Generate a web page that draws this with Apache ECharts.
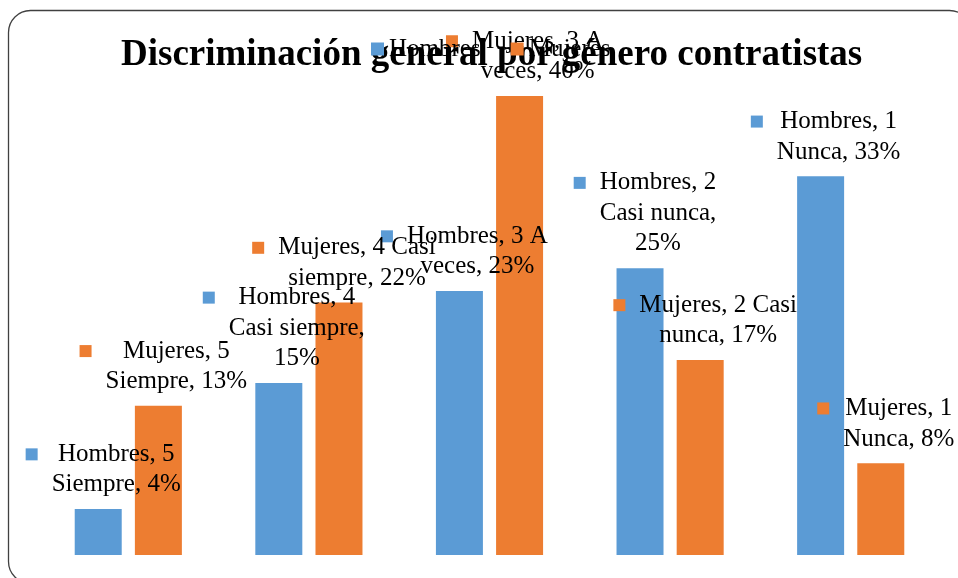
<!DOCTYPE html>
<html>
<head>
<meta charset="utf-8">
<script src="https://cdn.jsdelivr.net/npm/echarts@6/dist/echarts.min.js"></script>
<style>
html,body{margin:0;padding:0;background:#fff;}
#chart{width:958px;height:578px;}
</style>
</head>
<body>
<div id="chart"></div>
<script>
const titleText = 'Discriminación general por género contratistas';
const categories = ['5 Siempre', '4 Casi siempre', '3 A veces', '2 Casi nunca', '1 Nunca'];
const seriesNames = ['Hombres', 'Mujeres'];
const hombres = [4, 15, 23, 25, 33];
const mujeres = [13, 22, 40, 17, 8];
const colors = ['#5B9BD5', '#ED7D31'];

const FONT = '"Liberation Serif", "Times New Roman", serif';
const LABEL_SIZE = 25;
const LH = 30.5;

const ctx = document.createElement('canvas').getContext('2d');
ctx.font = LABEL_SIZE + 'px ' + FONT;
function wrap(text) {
  const maxW = 6.5 * LABEL_SIZE;
  const words = text.split(' ');
  const lines = [];
  let cur = '';
  words.forEach(w => {
    const cand = cur ? cur + ' ' + w : w;
    if (cur && ctx.measureText(cand).width > maxW) {
      lines.push(cur);
      cur = w;
    } else {
      cur = cand;
    }
  });
  if (cur) lines.push(cur);
  return lines;
}

function makeSeries(idx, values) {
  return {
    name: seriesNames[idx],
    type: 'bar',
    data: values,
    barWidth: 47,
    barGap: '28%',
    itemStyle: { color: colors[idx] },
    label: {
      show: true,
      position: 'top',
      distance: 9,
      offset: [5, 0],
      color: '#000',
      fontFamily: FONT,
      fontSize: LABEL_SIZE,
      lineHeight: LH,
      formatter: function (p) {
        const text = p.seriesName + ', ' + p.name + ', ' + p.value + '%';
        return wrap(text).map((l, i) =>
          (i === 0 ? '{sq|}{g|}' : '{sp|}') + '{t|' + l + '}'
        ).join('\n');
      },
      rich: {
        sq: { width: 12, height: 12, backgroundColor: colors[idx], align: 'left', lineHeight: 12 },
        g: { width: 14, height: 12, align: 'left', lineHeight: 12 },
        sp: { width: 26, height: 12, align: 'left', lineHeight: 12 },
        t: { align: 'center', color: '#000', fontFamily: FONT, fontSize: LABEL_SIZE, lineHeight: LH }
      }
    }
  };
}

const chart = echarts.init(document.getElementById('chart'), null, { renderer: 'canvas' });
chart.setOption({
  animation: false,
  backgroundColor: '#fff',
  title: {
    text: titleText,
    left: 116,
    top: 32,
    z: 2,
    textStyle: { fontFamily: FONT, fontSize: 37, fontWeight: 'bold', color: '#000' }
  },
  legend: {
    data: seriesNames,
    left: 371,
    top: 35,
    padding: 0,
    z: 10,
    icon: 'rect',
    itemWidth: 13,
    itemHeight: 13,
    itemGap: 30,
    textStyle: { fontFamily: FONT, fontSize: 25, color: '#000', lineHeight: 28 }
  },
  grid: { left: 38, right: 17, top: 96, bottom: 23, containLabel: false },
  xAxis: {
    type: 'category',
    data: categories,
    axisLine: { show: false },
    axisTick: { show: false },
    axisLabel: { show: false },
    splitLine: { show: false }
  },
  yAxis: {
    type: 'value',
    min: 0,
    max: 40,
    axisLine: { show: false },
    axisTick: { show: false },
    axisLabel: { show: false },
    splitLine: { show: false }
  },
  graphic: [{
    type: 'rect',
    z: -10,
    silent: true,
    shape: { x: 8.5, y: 10.5, width: 963, height: 573, r: 22 },
    style: { fill: 'none', stroke: '#404040', lineWidth: 1.3 }
  }],
  series: [makeSeries(0, hombres), makeSeries(1, mujeres)]
});
</script>
</body>
</html>
